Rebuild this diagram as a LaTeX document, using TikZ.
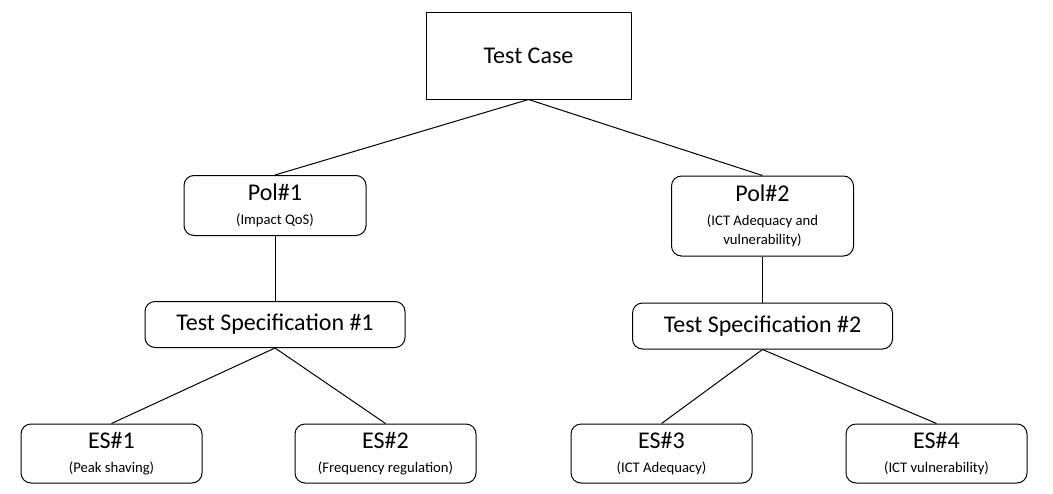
\documentclass[tikz,border=0pt]{standalone}
\usepackage{fontspec}
\setmainfont{Carlito}
\usetikzlibrary{positioning}

\begin{document}
\begin{tikzpicture}[x=0.75pt, y=-0.75pt, line width=0.75pt,
    casebox/.style={draw, minimum width=153.75pt, minimum height=65.25pt,
    font=\fontsize{18}{18}\selectfont},
    itembox/.style={draw, rounded corners=7.5pt, align=center, inner sep=0pt,
    font=\fontsize{18}{18}\selectfont},
    polbox/.style={itembox, minimum width=136.5pt, minimum height=45pt},
    specbox/.style={itembox, minimum width=195pt, minimum height=34.5pt},
    esbox/.style={itembox, minimum width=135.75pt, minimum height=44.25pt},
    ]

    \useasboundingbox (0,0) rectangle (1053,493);

    \node[casebox] (tc) at (528.5,55.5) {Test Case};

    \node[polbox] (pol1) at (275,205.5)
        {Pol\#1\\[-0.5pt]{\fontsize{11}{14}\selectfont (Impact QoS)}};
    \node[polbox, minimum height=60pt] (pol2) at (762.5,216)
        {Pol\#2\\[-0.5pt]{\fontsize{11}{14}\selectfont (ICT Adequacy and}\\[-3.5pt]
        {\fontsize{11}{14}\selectfont vulnerability)}};

    \node[specbox] (ts1) at (275,324.5) {Test Specification \#1};
    \node[specbox] (ts2) at (762.5,326) {Test Specification \#2};

    \node[esbox] (es1) at (111.5,453.5)
        {ES\#1\\[-0.5pt]{\fontsize{11}{14}\selectfont (Peak shaving)}};
    \node[esbox] (es2) at (385.5,453.5)
        {ES\#2\\[-0.5pt]{\fontsize{11}{14}\selectfont (Frequency regulation)}};
    \node[esbox] (es3) at (661.5,453.5)
        {ES\#3\\[-0.5pt]{\fontsize{11}{14}\selectfont (ICT Adequacy)}};
    \node[esbox] (es4) at (936.5,453.5)
        {ES\#4\\[-0.5pt]{\fontsize{11}{14}\selectfont (ICT vulnerability)}};

    \draw (tc.south) -- (pol1.north);
    \draw (tc.south) -- (pol2.north);
    \draw (pol1) -- (ts1);
    \draw (pol2) -- (ts2);
    \draw (ts1.south) -- (es1.north);
    \draw (ts1.south) -- (es2.north);
    \draw (ts2.south) -- (es3.north);
    \draw (ts2.south) -- (es4.north);
\end{tikzpicture}
\end{document}
